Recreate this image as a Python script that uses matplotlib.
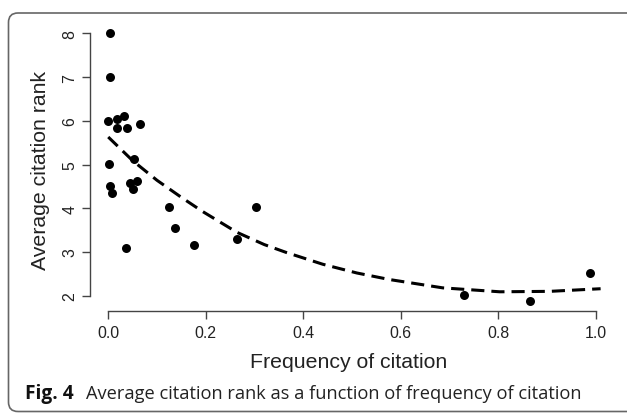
import numpy as np
import matplotlib
matplotlib.use("Agg")
import matplotlib.pyplot as plt
from matplotlib.patches import FancyBboxPatch

plt.rcParams["font.family"] = ["Liberation Sans", "DejaVu Sans"]

freq = [0.003, 0.003, 0.000, 0.017, 0.032, 0.017, 0.039, 0.066, 0.002, 0.053,
        0.003, 0.007, 0.044, 0.060, 0.050, 0.124, 0.136, 0.036, 0.175, 0.265,
        0.304, 0.730, 0.865, 0.988]
rank = [8.00, 7.00, 6.00, 6.04, 6.12, 5.83, 5.83, 5.93, 5.01, 5.13,
        4.50, 4.35, 4.58, 4.63, 4.44, 4.02, 3.56, 3.08, 3.16, 3.30,
        4.04, 2.02, 1.89, 2.53]
# fitted trend line
fit_x = [0.0, 0.05, 0.10, 0.15, 0.193, 0.264, 0.32, 0.365, 0.44, 0.51, 0.577, 0.686,
         0.803, 0.906, 1.01]
fit_y = [5.63, 5.09, 4.64, 4.25, 3.93, 3.45, 3.17, 2.99, 2.72, 2.52, 2.37, 2.18,
         2.09, 2.10, 2.16]
xticks = [0.0, 0.2, 0.4, 0.6, 0.8, 1.0]
yticks = [2, 3, 4, 5, 6, 7, 8]

W, H = 627, 414
fig = plt.figure(figsize=(W/100, H/100), dpi=100)
fig.patch.set_facecolor("white")

box = FancyBboxPatch((8.5/W, 1.5/H), (640-8.5)/W, (400-1.5)/H,
                     boxstyle="round,pad=0,rounding_size=0.015",
                     transform=fig.transFigure, fill=False, edgecolor="#666666",
                     linewidth=1.2, mutation_aspect=W/H)
fig.patches.append(box)

ax = fig.add_axes([90/W, 1-312.2/H, 519.1/W, 288.5/H])
ax.set_xlim(-0.0374, 1.0274)
ax.set_ylim(1.646, 8.244)
for s in ["top", "right"]:
    ax.spines[s].set_visible(False)
for s in ["left", "bottom"]:
    ax.spines[s].set_color("#444444")
    ax.spines[s].set_linewidth(1.0)
ax.spines["left"].set_bounds(2, 8)
ax.spines["bottom"].set_bounds(0, 1)
ax.set_xticks(xticks)
ax.set_xticklabels([f"{v:.1f}" for v in xticks])
ax.set_yticks(yticks)
ax.set_yticklabels([str(v) for v in yticks], rotation=90, va="center")
ax.tick_params(axis="both", direction="out", length=6, width=1.0, color="#444444",
               labelsize=11.4, labelcolor="#222222")
ax.tick_params(axis="x", pad=4)
ax.tick_params(axis="y", pad=3)

ax.scatter(freq, rank, s=42, color="black", zorder=3, linewidths=0)
ax.plot(fit_x, fit_y, color="black", lw=2.2, dashes=(4.3, 2.3))

fig.text(41/W, 1-170/H, "Average citation rank", rotation=90, ha="center", va="center",
         fontsize=15.3, color="#222222")
fig.text(349/W, 1-363/H, "Frequency of citation", ha="center", va="center",
         fontsize=15.3, color="#222222")

t1 = fig.text(25/W, 1-399/H, "Fig. 4", ha="left", va="baseline", fontsize=13,
              family="Open Sans", weight="bold", color="#111111")
t2 = fig.text(86/W, 1-399/H, "Average citation rank as a function of frequency of citation",
              ha="left", va="baseline", fontsize=13, family="Open Sans", color="#222222")
fig.canvas.draw()
r = fig.canvas.get_renderer()
w1 = t1.get_window_extent(r).width
t1.set_fontsize(13 * 48 / w1)
w2 = t2.get_window_extent(r).width
t2.set_fontsize(13 * 494 / w2)

fig.savefig("out.png", dpi=100)
